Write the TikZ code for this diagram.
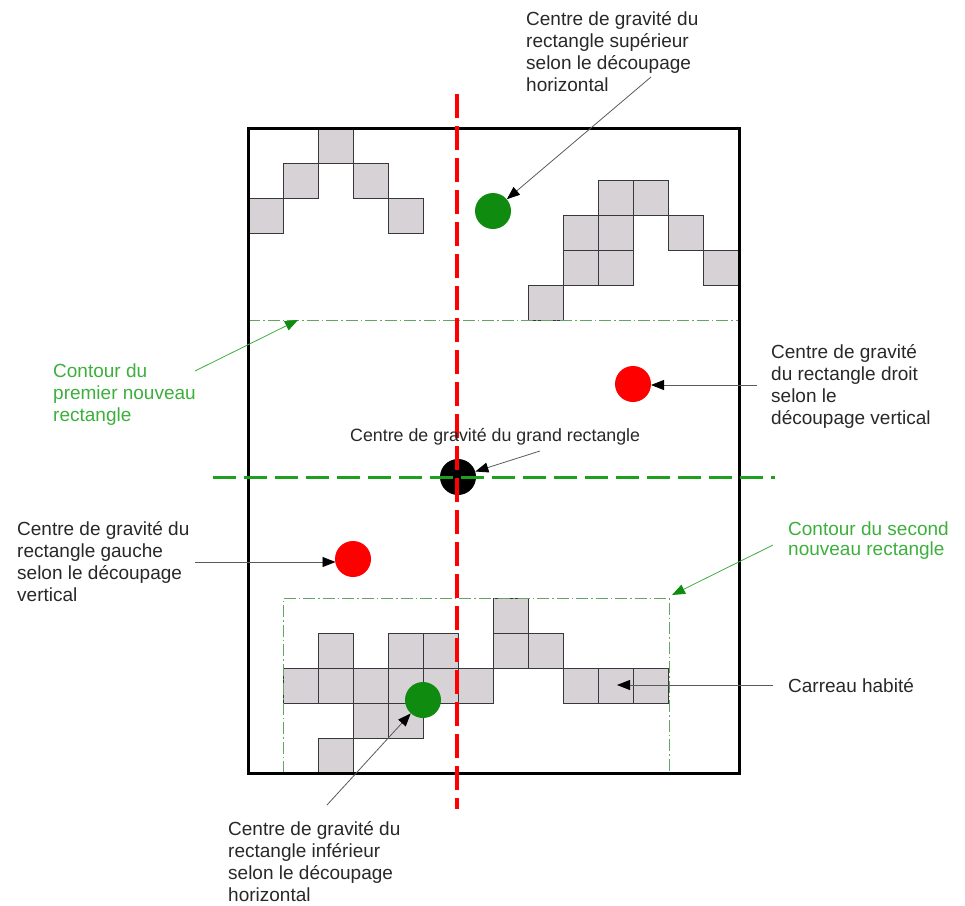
\documentclass[tikz,border=0pt]{standalone}
\usepackage{fontspec}
\setmainfont{Liberation Sans}
\usetikzlibrary{arrows.meta}
\definecolor{cellfill}{RGB}{214,210,214}
\definecolor{celledge}{RGB}{55,55,60}
\definecolor{redc}{RGB}{255,0,0}
\definecolor{gdash}{RGB}{30,160,30}
\definecolor{gdot}{RGB}{100,165,100}
\definecolor{gcirc}{RGB}{15,140,15}
\definecolor{gtext}{RGB}{60,175,60}
\definecolor{txt}{RGB}{40,40,40}
\definecolor{lead}{RGB}{90,90,90}
\begin{document}
\begin{tikzpicture}[x=1pt,y=-1pt,
  cell/.style={fill=cellfill,draw=celledge,line width=0.8pt},
  contour/.style={draw=gdot,line width=0.9pt,dash pattern=on 12pt off 3pt on 1.5pt off 3pt},
  frame/.style={draw=black,line width=3pt},
  reddash/.style={draw=redc,line width=4pt,dash pattern=on 24pt off 8pt},
  greendash/.style={draw=gdash,line width=3pt,dash pattern=on 23pt off 8pt},
  dot/.style={circle,minimum size=36pt,inner sep=0pt,draw=none},
  lbl/.style={font=\fontsize{19}{22}\selectfont,align=left,inner sep=0pt,text=txt,anchor=base west},
  glbl/.style={lbl,text=gtext},
  ptr/.style={draw=lead,line width=0.8pt,-{Triangle[length=13pt,width=10pt,color=black]}},
  gptr/.style={draw=gtext,line width=0.8pt,-{Triangle[length=13pt,width=10pt,color=gcirc]}}]
\useasboundingbox (0,0) rectangle (965,905);
% occupied cells
\foreach \cx/\cy in {248/198,283/163,318/128,353/163,388/198,
  528/285,563/215,563/250,598/180,598/215,598/250,633/180,668/215,703/250,
  493/598,318/633,388/633,423/633,493/633,528/633,
  283/668,318/668,353/668,388/668,423/668,458/668,563/668,598/668,633/668,
  353/703,388/703,318/738}
  \draw[cell] (\cx,\cy) rectangle ++(35,35);
% contours
\coordinate (c1a) at (248,320);
\coordinate (c1b) at (739,320);
\draw[contour] (c1a) -- (c1b);
\coordinate (c2a) at (283,773);
\coordinate (c2b) at (283,598);
\coordinate (c2c) at (669,598);
\coordinate (c2d) at (669,773);
\draw[contour] (c2a) -- (c2b) -- (c2c) -- (c2d);
% frame
\coordinate (fA) at (248,128);
\coordinate (fB) at (739,773);
\draw[frame] (fA) rectangle (fB);
% centres of gravity
\node[dot,fill=black] (gBig) at (458,477) {};
\node[dot,fill=gcirc] (gTop) at (493,211) {};
\node[dot,fill=gcirc] (gBot) at (423,700) {};
\node[dot,fill=redc] (gRight) at (633,384) {};
\node[dot,fill=redc] (gLeft) at (353,559) {};
% cut lines
\coordinate (rT) at (457,94);
\coordinate (rB) at (457,809);
\draw[reddash] (rT) -- (rB);
\coordinate (hL) at (213,477);
\coordinate (hR) at (775,477);
\draw[greendash] (hL) -- (hR);
% labels (anchor = baseline of the last line)
\node[lbl] (tTop) at (526,91) {Centre de gravité du\\rectangle supérieur\\selon le découpage\\horizontal};
\node[glbl] (tC1) at (53,421) {Contour du\\premier nouveau\\rectangle};
\node[lbl] (tRight) at (771,424) {Centre de gravité\\du rectangle droit\\selon le\\découpage vertical};
\node[lbl,font=\fontsize{17.8}{22}\selectfont] (tBig) at (350,441) {Centre de gravité du grand rectangle};
\node[lbl] (tLeft) at (17,601) {Centre de gravité du\\rectangle gauche\\selon le découpage\\vertical};
\node[glbl,font=\fontsize{19}{20}\selectfont] (tC2) at (788,555) {Contour du second\\nouveau rectangle};
\node[lbl] (tCell) at (788,692) {Carreau habité};
\node[lbl] (tBot) at (228,901) {Centre de gravité du\\rectangle inférieur\\selon le découpage\\horizontal};
% pointers
\coordinate (sTop) at (651,77);
\draw[ptr] (sTop) -- (gTop);
\coordinate (sC1) at (195,371);
\coordinate (eC1) at (298,320);
\draw[gptr] (sC1) -- (eC1);
\coordinate (sRight) at (757,385);
\coordinate (eRight) at (651,385);
\draw[ptr] (sRight) -- (eRight);
\coordinate (sBig) at (540,451);
\draw[ptr] (sBig) -- (gBig);
\coordinate (sLeft) at (195,562);
\coordinate (eLeft) at (335.5,562);
\draw[ptr] (sLeft) -- (eLeft);
\coordinate (sC2) at (773,545);
\coordinate (eC2) at (672,595);
\draw[gptr] (sC2) -- (eC2);
\coordinate (sCell) at (773,685);
\coordinate (eCell) at (617,685);
\draw[ptr] (sCell) -- (eCell);
\coordinate (sBot) at (327,805);
\draw[ptr] (sBot) -- (gBot);
\end{tikzpicture}
\end{document}
